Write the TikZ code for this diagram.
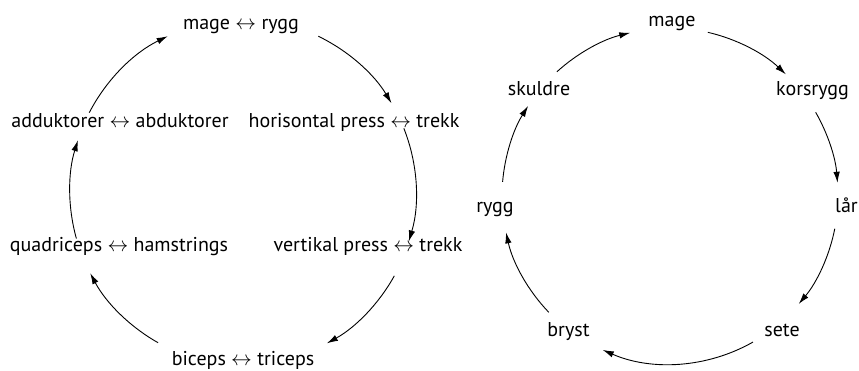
\documentclass[tikz,border=0pt]{standalone}
\usepackage{fontspec}
\setmainfont{PT Sans}
\usetikzlibrary{arrows.meta,calc}
\begin{document}
\begin{tikzpicture}[x=1pt,y=1pt,
  lbl/.style={anchor=base,inner sep=0pt,font=\fontsize{20}{24}\selectfont},
  arr/.style={line width=0.9pt,-{Latex[length=11pt,width=6.5pt]}}]
\useasboundingbox (0,0) rectangle (859,371);
% left cycle
\coordinate (CL) at (243,179);
\node[lbl] (L1) at (241,341) {mage $\leftrightarrow$ rygg};
\node[lbl] (L2) at (354,243) {horisontal press $\leftrightarrow$ trekk};
\node[lbl] (L3) at (368,119) {vertikal press $\leftrightarrow$ trekk};
\node[lbl] (L4) at (243,5) {biceps $\leftrightarrow$ triceps};
\node[lbl] (L5) at (119,119) {quadriceps $\leftrightarrow$ hamstrings};
\node[lbl] (L6) at (120,243) {adduktorer $\leftrightarrow$ abduktorer};
\coordinate (l61) at ($(CL)+(152.7:173)$);
\coordinate (l12) at ($(CL)+(64.2:173)$);
\coordinate (l23) at ($(CL)+(21.6:173)$);
\coordinate (l34) at ($(CL)+(-29:173)$);
\coordinate (l45) at ($(CL)+(-119.4:173)$);
\coordinate (l56) at ($(CL)+(195.6:173)$);
\draw[arr] (l61) arc[start angle=152.7,end angle=115.8,radius=173pt];
\draw[arr] (l12) arc[start angle=64.2,end angle=30.9,radius=173pt];
\draw[arr] (l23) arc[start angle=21.6,end angle=-16.6,radius=173pt];
\draw[arr] (l34) arc[start angle=-29,end angle=-61,radius=173pt];
\draw[arr] (l45) arc[start angle=-119.4,end angle=-152,radius=173pt];
\draw[arr] (l56) arc[start angle=195.6,end angle=162.6,radius=173pt];
% right cycle
\coordinate (CR) at (670,175);
\node[lbl] (R1) at (672,344) {mage};
\node[lbl] (R2) at (812.5,275) {korsrygg};
\node[lbl] (R3) at (846.5,158) {lår};
\node[lbl] (R4) at (782,34) {sete};
\node[lbl] (R5) at (568.5,34) {bryst};
\node[lbl] (R6) at (495,158) {rygg};
\node[lbl] (R7) at (539,275) {skuldre};
\coordinate (r71) at ($(CR)+(132.3:168)$);
\coordinate (r12) at ($(CR)+(77:168)$);
\coordinate (r23) at ($(CR)+(29.9:168)$);
\coordinate (r34) at ($(CR)+(-11.2:168)$);
\coordinate (r45) at ($(CR)+(-60.4:168)$);
\coordinate (r56) at ($(CR)+(-136.2:168)$);
\coordinate (r67) at ($(CR)+(175.2:168)$);
\draw[arr] (r71) arc[start angle=132.3,end angle=103.7,radius=168pt];
\draw[arr] (r12) arc[start angle=77,end angle=46.4,radius=168pt];
\draw[arr] (r23) arc[start angle=29.9,end angle=4.5,radius=168pt];
\draw[arr] (r34) arc[start angle=-11.2,end angle=-40,radius=168pt];
\draw[arr] (r45) arc[start angle=-60.4,end angle=-113.6,radius=168pt];
\draw[arr] (r56) arc[start angle=-136.2,end angle=-167.5,radius=168pt];
\draw[arr] (r67) arc[start angle=175.2,end angle=147.6,radius=168pt];
\end{tikzpicture}
\end{document}
